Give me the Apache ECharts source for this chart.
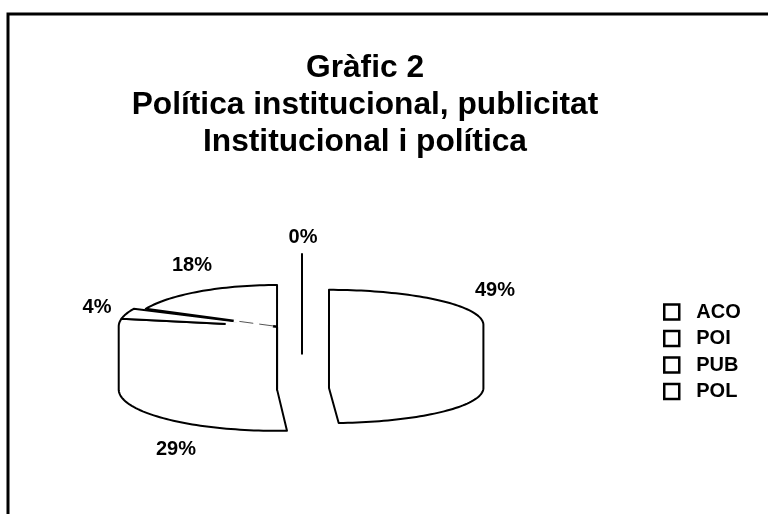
<!DOCTYPE html>
<html lang="ca">
<head>
	<meta charset="UTF-8">
	<title>Gràfic 2</title>
	<style>
		html, body { margin: 0; padding: 0; background: #fff; }
		#chart { width: 768px; height: 514px; }
	</style>
</head>
<body>
<div id="chart"></div>
<script src="https://cdn.jsdelivr.net/npm/echarts@6/dist/echarts.min.js"></script>
<script>
	// slices clockwise from 12 o'clock, the legend only lists the first four
	var sliceNames = ['ACO', 'POI', 'PUB', 'POL', ''];
	var sliceValues = [0, 49, 29, 4, 18];
	var legendNames = ['ACO', 'POI', 'PUB', 'POL'];
	var titleLines = ['Gràfic 2', 'Política institucional, publicitat', 'Institucional i política'];

	// layout, in axis units (one unit = the pie radius)
	var sliceOffsets = [[0, 0.92], [0.173, 0], [-0.16, -0.04], [-0.16, -0.04], [-0.16, -0.04]];
	var sliceRadii = [[1, 1], [0.99, 0.95], [1.015, 1.12], [1.015, 1.12], [0.93, 1.12]];
	var depth = 1.7;
	// the scan lost the inner part of these spokes
	var spokeGaps = [0, 0, 0, 0.33, 0.33];
	var spokeFaint = [false, false, false, false, true];
	// label centres, pixels
	var labelSpots = [[303, 237], [495, 290], [176, 449], [97, 307], [192, 265]];

	var font = '"Liberation Sans", Arial, sans-serif';

	function renderSlice(params, api) {
		var idx = params.seriesIndex;
		var value = api.value(0);
		var start = api.value(1);
		var off = sliceOffsets[idx];
		var rad = sliceRadii[idx];
		var a0 = start / 100 * Math.PI * 2;
		var a1 = (start + value) / 100 * Math.PI * 2;

		var centerTop = api.coord([off[0], off[1]]);
		var centerBottom = api.coord([off[0], off[1] - depth]);

		// the rim runs along the top face at the back, along the bottom face at the front
		var rim = [];
		var steps = Math.max(1, Math.ceil((a1 - a0) / 0.03));
		var firstFront = false, lastFront = false;
		for (var i = 0; i <= steps; i++) {
			var a = a0 + (a1 - a0) * i / steps;
			var front = Math.cos(a) < 0;
			if (i === 0) firstFront = front;
			if (i === steps) lastFront = front;
			rim.push(api.coord([
				off[0] + rad[0] * Math.sin(a),
				off[1] + rad[1] * Math.cos(a) - (front ? depth : 0)
			]));
		}

		var points = firstFront ? [centerTop, centerBottom] : [centerBottom, centerTop];
		points = points.concat(rim);
		if (!lastFront) points.push(centerTop);

		var children = [{
			type: 'polygon',
			shape: { points: points },
			style: { fill: '#fff', stroke: '#000', lineWidth: 2, lineJoin: 'round' }
		}];

		if (spokeGaps[idx] > 0) {
			var near = [centerTop[0] + (rim[0][0] - centerTop[0]) * 0.03, centerTop[1] + (rim[0][1] - centerTop[1]) * 0.03];
			var far = [centerTop[0] + (rim[0][0] - centerTop[0]) * spokeGaps[idx], centerTop[1] + (rim[0][1] - centerTop[1]) * spokeGaps[idx]];
			children.push({
				type: 'line',
				shape: { x1: near[0], y1: near[1], x2: far[0], y2: far[1] },
				style: { stroke: '#fff', lineWidth: 3.5 }
			});
			if (spokeFaint[idx]) {
				children.push({
					type: 'line',
					shape: { x1: near[0], y1: near[1], x2: far[0], y2: far[1] },
					style: { stroke: '#555', lineWidth: 1, lineDash: [14, 6] }
				});
			}
		}

		children.push({
			type: 'text',
			style: {
				text: value + '%',
				x: labelSpots[idx][0],
				y: labelSpots[idx][1],
				align: 'center',
				verticalAlign: 'middle',
				font: 'bold 20px ' + font,
				fill: '#000'
			}
		});

		return { type: 'group', children: children };
	}

	var series = [];
	var cumulative = 0;
	for (var s = 0; s < sliceValues.length; s++) {
		series.push({
			type: 'custom',
			name: sliceNames[s],
			coordinateSystem: 'cartesian2d',
			renderItem: renderSlice,
			itemStyle: { color: '#fff', borderColor: '#000' },
			data: [[sliceValues[s], cumulative]]
		});
		cumulative += sliceValues[s];
	}

	var myChart = echarts.init(document.getElementById('chart'));
	myChart.setOption({
		animation: false,
		backgroundColor: '#fff',
		title: {
			text: titleLines.join('\n'),
			left: 360,
			top: 45,
			textAlign: 'center',
			textStyle: {
				fontFamily: font,
				fontWeight: 'bold',
				fontSize: 31.7,
				lineHeight: 37,
				color: '#000'
			}
		},
		legend: {
			data: legendNames,
			orient: 'vertical',
			left: 658,
			top: 297,
			icon: 'rect',
			itemWidth: 15,
			itemHeight: 15,
			itemGap: 6.5,
			selectedMode: false,
			itemStyle: { color: '#fff', borderColor: '#000', borderWidth: 2.5 },
			textStyle: { fontFamily: font, fontWeight: 'bold', fontSize: 20, lineHeight: 20, color: '#000', padding: [0, 0, 0, 12] }
		},
		grid: { left: 68, top: 214, width: 546, height: 222 },
		xAxis: { type: 'value', min: -1.5, max: 2, show: false },
		yAxis: { type: 'value', min: -3, max: 3, show: false },
		graphic: [{
			type: 'polyline',
			shape: { points: [[8, 514], [8, 14], [768, 14]] },
			style: { fill: null, stroke: '#000', lineWidth: 3 }
		}],
		series: series
	});
</script>
</body>
</html>
